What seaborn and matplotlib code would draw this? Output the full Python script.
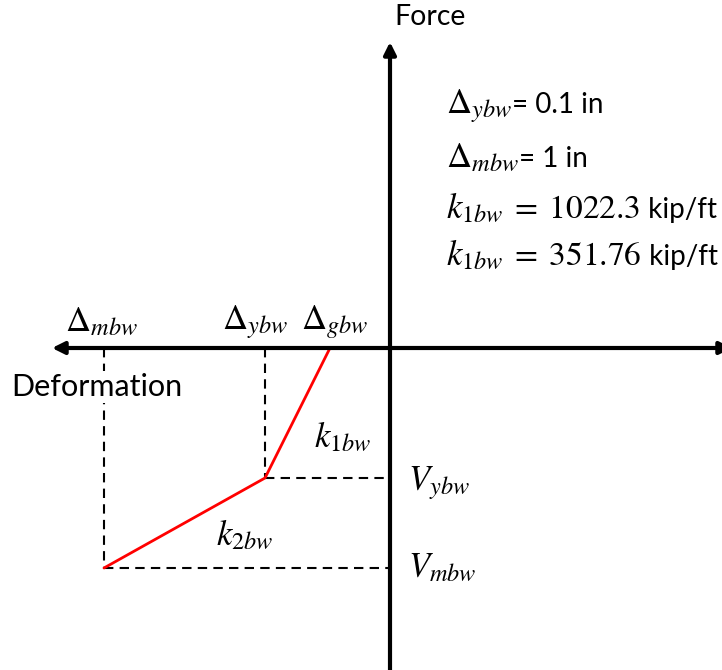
import matplotlib
matplotlib.use("Agg")
import matplotlib.pyplot as plt
import pandas as pd
import seaborn as sns

# Schematic backbone of the wall force-deformation curve (drawing units)
points = ["gap", "yield", "max"]
deformation = [-60, -125, -286]
force = [0, -130, -220]

# Parameter annotations: (math symbol, equation part in math, plain text)
param_symbols = [r"$\Delta_{ybw}$", r"$\Delta_{mbw}$", r"$k_{1bw}$", r"$k_{1bw}$"]
param_math = ["", "", r"$\;=\;1022.3$", r"$\;=\;351.76$"]
param_text = ["= 0.1 in", "= 1 in", " kip/ft", " kip/ft"]

sns.set_style("white")
plt.rcParams["font.family"] = ["Lato", "DejaVu Sans"]
plt.rcParams["mathtext.fontset"] = "stix"
plt.rcParams["text.color"] = "black"

fig = plt.figure(figsize=(7.22, 6.70), dpi=100)
ax = fig.add_axes([0, 0, 1, 1])
ax.set_xlim(-390, 332)
ax.set_ylim(-322, 348)
ax.axis("off")

df = pd.DataFrame({"point": points, "deformation": deformation, "force": force})
sns.lineplot(data=df, x="deformation", y="force", sort=False, color="red",
             lw=2, ax=ax, zorder=4)

# Axes with arrow heads
ax.annotate("", xy=(-338, 0), xytext=(342, 0),
            arrowprops=dict(arrowstyle="<|-|>", lw=3, color="black",
                            mutation_scale=18, shrinkA=0, shrinkB=0), zorder=5)
ax.annotate("", xy=(0, 306), xytext=(0, -330),
            arrowprops=dict(arrowstyle="-|>", lw=3, color="black",
                            mutation_scale=18, shrinkA=0, shrinkB=0), zorder=5)

# Dashed projection lines
dash = dict(color="black", lw=1.5, ls=(0, (4.5, 3)), zorder=2)
x_g, x_y, x_m = deformation
f_g, f_y, f_m = force
ax.plot([x_y, x_y], [0, f_y], **dash)
ax.plot([x_m, x_m], [0, f_m], **dash)
ax.plot([x_y, 0], [f_y, f_y], **dash)
ax.plot([x_m, 0], [f_m, f_m], **dash)

# Axis titles
ax.text(40, 331, "Force", ha="center", va="center", fontsize=20.5)
ax.text(-293, -39, "Deformation", ha="center", va="center", fontsize=22,
        bbox=dict(facecolor="white", edgecolor="none", pad=1), zorder=3)

# Point labels on the deformation axis
mfs = 25
ax.text(x_m - 2, 26, r"$\Delta_{mbw}$", ha="center", va="center", fontsize=mfs)
ax.text(x_y - 10, 26, r"$\Delta_{ybw}$", ha="center", va="center", fontsize=mfs)
ax.text(x_g + 5, 26, r"$\Delta_{gbw}$", ha="center", va="center", fontsize=mfs)

# Stiffness labels
ax.text(-47, -89, r"$k_{1bw}$", ha="center", va="center", fontsize=mfs)
ax.text(-145, -187, r"$k_{2bw}$", ha="center", va="center", fontsize=mfs)

# Force labels
ax.text(18, f_y - 5, r"$V_{ybw}$", ha="left", va="center", fontsize=mfs)
ax.text(18, f_m, r"$V_{mbw}$", ha="left", va="center", fontsize=mfs)

# Parameter block: math and plain-text pieces placed side by side on a baseline
renderer = fig.canvas.get_renderer()
inv = ax.transData.inverted()


def put_pieces(x, y, pieces):
    for txt, size in pieces:
        if not txt:
            continue
        t = ax.text(x, y, txt, ha="left", va="baseline", fontsize=size)
        bb = t.get_window_extent(renderer=renderer)
        x = inv.transform((bb.x1, bb.y0))[0]


for sym, eq, plain, yy in zip(param_symbols, param_math, param_text,
                              [235, 181, 130, 83]):
    put_pieces(56, yy, [(sym, 25), (eq, 24), (plain, 20)])

fig.savefig("out.png", dpi=100)
